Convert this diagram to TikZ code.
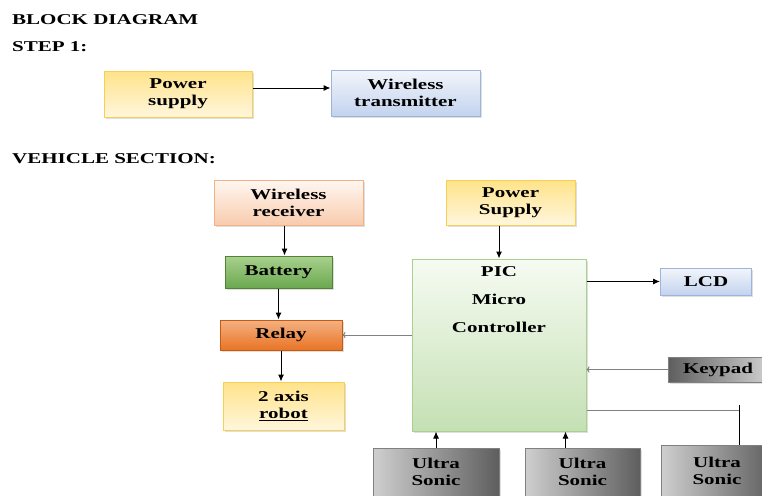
\documentclass[tikz,border=0pt]{standalone}
\usepackage{fontspec}
\setmainfont{Liberation Serif}[FakeStretch=1.4]
\usetikzlibrary{arrows.meta,shadows}
\definecolor{yelA}{HTML}{FFE38A}
\definecolor{yelB}{HTML}{FFF6DC}
\definecolor{yelD}{HTML}{F7CF55}
\definecolor{bluA}{HTML}{F2F5FB}
\definecolor{bluB}{HTML}{C3D3EE}
\definecolor{bluD}{HTML}{9DB4DD}
\definecolor{peaA}{HTML}{FFF7F1}
\definecolor{peaB}{HTML}{F8CBAD}
\definecolor{peaD}{HTML}{F4B183}
\definecolor{grnA}{HTML}{A9D18E}
\definecolor{grnB}{HTML}{6AA84F}
\definecolor{grnD}{HTML}{548235}
\definecolor{orgA}{HTML}{F4B183}
\definecolor{orgB}{HTML}{E97425}
\definecolor{orgD}{HTML}{C55A11}
\definecolor{picA}{HTML}{F6FBF2}
\definecolor{picB}{HTML}{C5E0B4}
\definecolor{picD}{HTML}{A9D18E}
\definecolor{gryL}{HTML}{CFCFCF}
\definecolor{gryD}{HTML}{5E5E5E}
\definecolor{lineG}{HTML}{808080}

\begin{document}
\begin{tikzpicture}[x=1pt, y=-1pt,
    every node/.style = {font=\fontsize{15}{17}\selectfont\bfseries, align=center, inner sep=0pt},
    blk/.style = {draw, line width=1pt, drop shadow={shadow xshift=1.5pt, shadow yshift=-1.5pt, opacity=.25}},
    yel/.style = {blk, draw=yelD, top color=yelA, bottom color=yelB},
    blu/.style = {blk, draw=bluD, top color=bluA, bottom color=bluB},
    pea/.style = {blk, draw=peaD, top color=peaA, bottom color=peaB},
    grn/.style = {blk, draw=grnD, top color=grnA, bottom color=grnB},
    org/.style = {blk, draw=orgD, top color=orgA, bottom color=orgB},
    picbox/.style = {blk, draw=picD, top color=picA, bottom color=picB},
    gry/.style = {blk, draw=gray, left color=gryL, right color=gryD},
    gryk/.style = {blk, draw=gray, left color=gryD, right color=gryL},
    arr/.style = {-{Latex[length=7pt,width=6pt]}, line width=1pt},
    garr/.style = {-{To[length=3pt]}, draw=lineG, line width=1pt},
    gline/.style = {draw=lineG, line width=1pt}]

      \path[use as bounding box, fill=white] (0,0) rectangle (762,495);

      \node[anchor=base west] (title) at (12,25) {BLOCK DIAGRAM};
      \node[anchor=base west] (step) at (12,52) {STEP 1:};
      \node[anchor=base west] (veh) at (12,163) {VEHICLE SECTION:};

      \node[yel, minimum width=148pt, minimum height=46pt] (ps) at (178,94) {Power\\supply};
      \node[blu, minimum width=149pt, minimum height=46pt] (tx) at (405.5,93) {Wireless\\transmitter};
      \draw[arr] ([yshift=6pt]ps.east) -- ([yshift=6pt]ps.east -| tx.west);

      \node[pea, minimum width=149pt, minimum height=45pt] (rx) at (288.5,202.5) {Wireless\\receiver};
      \node[yel, minimum width=129pt, minimum height=45pt] (pwr) at (510.5,202.5) {Power\\Supply};
      \node[grn, minimum width=107pt, minimum height=32pt] (bat) at (278.5,272) {Battery};
      \node[org, minimum width=122pt, minimum height=30pt] (relay) at (281,335) {Relay};
      \node[yel, minimum width=121pt, minimum height=48pt] (robot) at (283.5,406) {2 axis\\\underline{robot}};

      \node[picbox, minimum width=174pt, minimum height=172pt] (pic) at (499,345) {};
      \node[anchor=north] (pictxt) at ([yshift=-8pt]pic.north) {PIC\\[11pt]Micro\\[11pt]Controller};

      \node[blu, minimum width=91pt, minimum height=27pt] (lcd) at (706,281.5) {LCD};
      \node[gryk, minimum width=100pt, minimum height=25pt] (kp) at (718,369.5) {Keypad};
      \node[gry, minimum width=126pt, minimum height=48pt] (us1) at (436,472) {Ultra\\Sonic};
      \node[gry, minimum width=115pt, minimum height=48pt] (us2) at (582.5,472) {Ultra\\Sonic};
      \node[gry, minimum width=112pt, minimum height=51pt] (us3) at (717,470.5) {Ultra\\Sonic};

      \draw[arr] ([xshift=-4pt]rx.south) -- ([xshift=-4pt]rx.south |- bat.north);
      \draw[arr] (bat.south) -- (bat.south |- relay.north);
      \draw[arr] (relay.south) -- (relay.south |- robot.north);
      \draw[arr] (pic.north |- pwr.south) -- (pic.north);
      \draw[arr] (pic.east |- lcd.west) -- (lcd.west);
      \draw[garr] (pic.west |- relay.east) -- (relay.east);
      \draw[garr] (kp.west) -- (kp.west -| pic.east);
      \draw[arr] (us1.north) -- (us1.north |- pic.south);
      \draw[arr] ([xshift=-17pt]us2.north) -- ([xshift=-17pt]us2.north |- pic.south);

      \coordinate (tee) at (739,410);
      \draw[gline] (pic.east |- tee) -- (tee);
      \draw[line width=1pt] ([yshift=5pt]tee) -- (tee |- us3.north);
    \end{tikzpicture}
\end{document}
